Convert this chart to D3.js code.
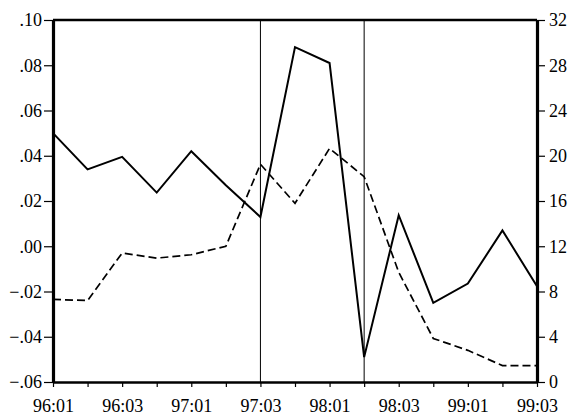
<!DOCTYPE html>
<html>
<head>
<meta charset="utf-8">
<script src="https://cdn.jsdelivr.net/npm/d3@7"></script>
<style>
  body { margin: 0; background: #fff; }
  svg { display: block; }
</style>
</head>
<body>
<svg id="chart" width="573" height="417"></svg>
<script>
// quarterly periods
const quarters = ["96:01","96:02","96:03","96:04","97:01","97:02","97:03","97:04",
                  "98:01","98:02","98:03","98:04","99:01","99:02","99:03"];
const xTicks = ["96:01","96:03","97:01","97:03","98:01","98:03","99:01","99:03"];

// solid line, left axis
const seriesLeft = [0.050, 0.034, 0.0395, 0.0237, 0.042, 0.027, 0.0129, 0.088,
                    0.081, -0.049, 0.0137, -0.025, -0.0165, 0.007, -0.0177];
// dashed line, right axis
const seriesRight = [7.3, 7.2, 11.4, 10.95, 11.25, 12.0, 19.25, 15.8,
                     20.65, 18.15, 9.7, 3.85, 2.8, 1.45, 1.45];

const leftTicks = [-0.06, -0.04, -0.02, 0.00, 0.02, 0.04, 0.06, 0.08, 0.10];
const rightTicks = [0, 4, 8, 12, 16, 20, 24, 28, 32];
const markers = ["97:03", "98:02"];

const width = 573, height = 417;
const margin = { top: 20, right: 36, bottom: 35, left: 53 };

const svg = d3.select("#chart");

const x = d3.scalePoint().domain(quarters).range([margin.left, width - margin.right]);
const yL = d3.scaleLinear().domain([-0.06, 0.10]).range([height - margin.bottom, margin.top]);
const yR = d3.scaleLinear().domain([0, 32]).range([height - margin.bottom, margin.top]);

const fmtL = d => d3.format(".2f")(d).replace("0.", ".");

// marker lines
svg.selectAll("line.marker")
  .data(markers)
  .join("line")
  .attr("class", "marker")
  .attr("x1", d => x(d)).attr("x2", d => x(d))
  .attr("y1", margin.top).attr("y2", height - margin.bottom)
  .attr("stroke", "#000").attr("stroke-width", 1);

// lines
const lineL = d3.line().x((d, i) => x(quarters[i])).y(d => yL(d));
const lineR = d3.line().x((d, i) => x(quarters[i])).y(d => yR(d));

svg.append("path")
  .attr("d", lineR(seriesRight))
  .attr("fill", "none").attr("stroke", "#000")
  .attr("stroke-width", 1.7).attr("stroke-dasharray", "8,4");

svg.append("path")
  .attr("d", lineL(seriesLeft))
  .attr("fill", "none").attr("stroke", "#000")
  .attr("stroke-width", 2).attr("stroke-linejoin", "miter");

// top border
svg.append("line")
  .attr("x1", margin.left).attr("x2", width - margin.right)
  .attr("y1", margin.top).attr("y2", margin.top)
  .attr("stroke", "#000").attr("stroke-width", 2.5);

// bottom axis
const gx = svg.append("g")
  .attr("transform", `translate(0,${height - margin.bottom})`)
  .call(d3.axisBottom(x).tickSize(5).tickSizeOuter(0)
    .tickFormat(d => xTicks.includes(d) ? d : ""));
gx.select(".domain").attr("stroke-width", 2.5);
gx.selectAll("text").attr("dy", null).attr("y", 30);

// left axis
const gl = svg.append("g")
  .attr("transform", `translate(${margin.left},0)`)
  .call(d3.axisLeft(yL).tickValues(leftTicks).tickFormat(fmtL).tickSize(9).tickPadding(2).tickSizeOuter(0));
gl.select(".domain").attr("stroke-width", 3.2);

// right axis
const gr = svg.append("g")
  .attr("transform", `translate(${width - margin.right},0)`)
  .call(d3.axisRight(yR).tickValues(rightTicks).tickSize(8).tickPadding(4).tickSizeOuter(0));
gr.select(".domain").attr("stroke-width", 3.2);

[gx, gl, gr].forEach(g => {
  g.attr("font-family", "Liberation Serif").attr("font-size", 18);
  g.selectAll(".tick line").attr("stroke-width", 1.2).attr("stroke", "#000");
  g.selectAll("text").style("font-family", "'Liberation Serif'").attr("fill", "#000");
  g.select(".domain").attr("stroke", "#000");
});
</script>
</body>
</html>
